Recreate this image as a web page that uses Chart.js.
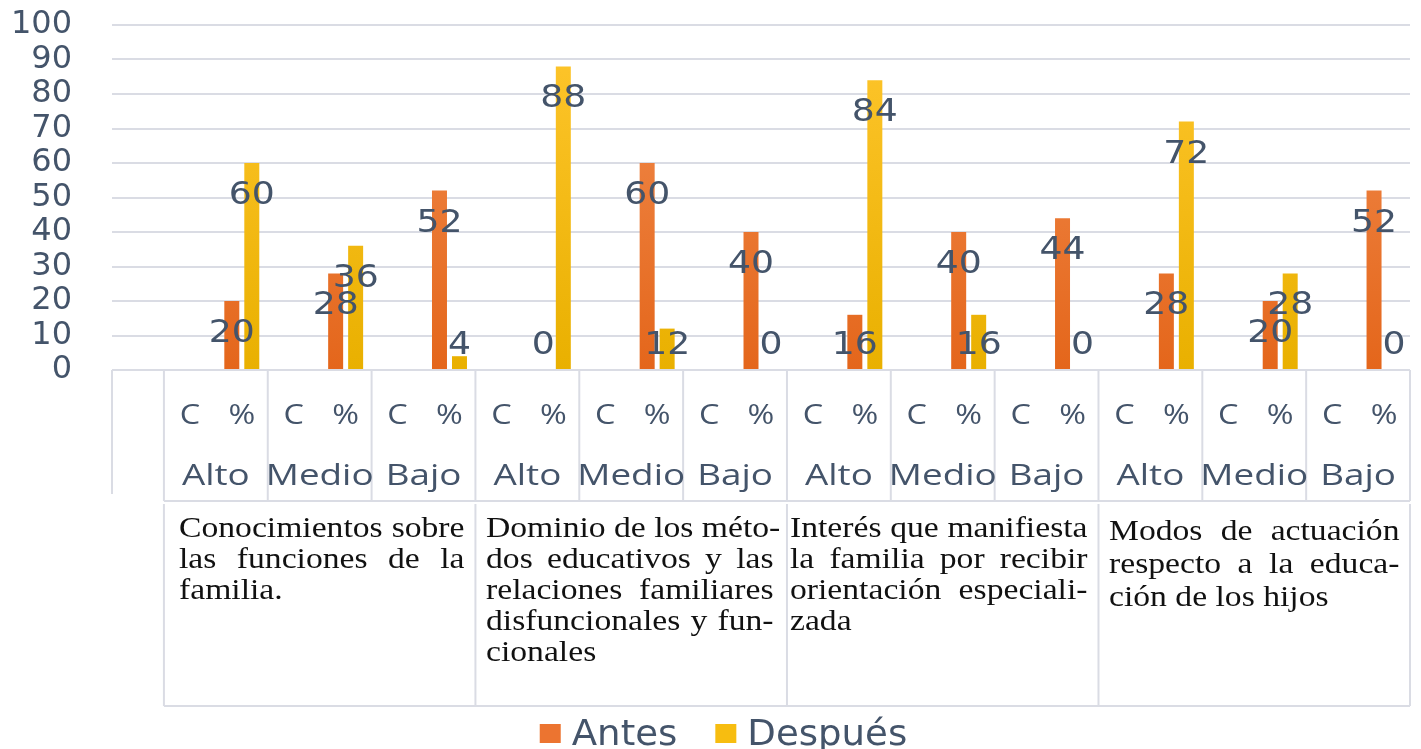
<!DOCTYPE html>
<html>
<head>
<meta charset="utf-8">
<script src="https://cdn.jsdelivr.net/npm/chart.js@4/dist/chart.umd.min.js"></script>
<style>
  body { margin: 0; background: #fff; }
  #wrap { position: relative; width: 1421px; height: 749px; }
  .cell { position: absolute; font-family: "Liberation Serif", "Times New Roman", serif; font-size: 29px; line-height: 31px; color: #111; transform-origin: 0 0; }
  .cell div { text-align: justify; text-align-last: justify; white-space: nowrap; }
  .cell div.last { text-align: left; text-align-last: left; }
</style>
</head>
<body>
<div id="wrap">
  <canvas id="myChart" width="1421" height="749"></canvas>
</div>
<script>
// data
const levels = ["Alto", "Medio", "Bajo"];
const subs = ["C", "%"];
const dimensions = [
  ["Conocimientos sobre", "las funciones de la", "familia."],
  ["Dominio de los méto-", "dos educativos y las", "relaciones familiares", "disfuncionales y fun-", "cionales"],
  ["Interés que manifiesta", "la familia por recibir", "orientación especiali-", "zada"],
  ["Modos de actuación", "respecto a la educa-", "ción de los hijos"]
];
const antes = [20, 28, 52, 0, 60, 40, 16, 40, 44, 28, 20, 52];
const despues = [60, 36, 4, 88, 12, 0, 84, 16, 0, 72, 28, 0];
const seriesNames = ["Antes", "Después"];

const textColor = "#44546a";
const gridColor = "#dadce4";

// one empty column first, then C / % for every level of every dimension
const labels = [""];
const antesData = [null];
const despuesData = [null];
antes.forEach((v, i) => {
  labels.push(subs[0], subs[1]);
  antesData.push(null, v);
  despuesData.push(null, despues[i]);
});

function grad(ctx, top, bottom) {
  const area = ctx.chart.chartArea;
  if (!area) return bottom;
  const g = ctx.chart.ctx.createLinearGradient(0, area.bottom, 0, area.top);
  g.addColorStop(0, bottom);
  g.addColorStop(1, top);
  return g;
}

function stretched(c, txt, x, y, sx) {
  c.save();
  c.translate(x, y);
  c.scale(sx, 1);
  c.fillText(txt, 0, 0);
  c.restore();
}

const extras = {
  id: "extras",
  afterDatasetsDraw(chart) {
    const c = chart.ctx;
    const xs = chart.scales.x;
    const ys = chart.scales.y;
    const base = ys.getPixelForValue(0);
    const w = xs.width / labels.length;
    const b = i => xs.left + i * w;

    // value labels
    c.save();
    c.fillStyle = textColor;
    c.font = "32px 'DejaVu Sans'";
    c.textAlign = "center";
    c.textBaseline = "alphabetic";
    chart.data.datasets.forEach((ds, di) => {
      chart.getDatasetMeta(di).data.forEach((el, i) => {
        const v = ds.data[i];
        if (v === null) return;
        const cy = Math.min(el.y + 30, base - 27);
        stretched(c, String(v), el.x, cy + 11, 1.13);
      });
    });
    c.restore();

    // category table lines
    c.save();
    c.strokeStyle = gridColor;
    c.lineWidth = 2;
    const line = (x1, y1, x2, y2) => { c.beginPath(); c.moveTo(x1, y1); c.lineTo(x2, y2); c.stroke(); };
    line(b(0), base, b(0), base + 124);
    for (let i = 1; i <= labels.length; i += 2) line(b(i), base, b(i), base + 131);
    line(b(1), base + 131, b(labels.length), base + 131);
    for (let i = 1; i <= labels.length; i += 6) line(b(i), base + 134, b(i), base + 336);
    line(b(1), base + 336, b(labels.length), base + 336);
    c.restore();

    // C / % and level labels
    c.save();
    c.fillStyle = textColor;
    c.textAlign = "center";
    c.font = "27px 'Open Sans'";
    labels.forEach((l, i) => {
      if (l) stretched(c, l, b(i) + w / 2, base + 54, 1.2);
    });
    c.font = "29px 'Open Sans'";
    for (let g = 0; g < antes.length; g++) {
      stretched(c, levels[g % 3], b(1 + g * 2) + w, base + 115, 1.27);
    }
    c.restore();

    // legend
    c.save();
    c.font = "35px 'DejaVu Sans'";
    c.textBaseline = "alphabetic";
    const box = 21, gapText = 11, gapItem = 38, sx = 1.06;
    const widths = seriesNames.map(n => c.measureText(n).width * sx);
    const total = widths.reduce((a, t) => a + box + gapText + t, 0) + gapItem;
    let lx = chart.width / 2 + 13 - total / 2;
    const colors = ["#ec7430", "#f7bd10"];
    seriesNames.forEach((n, i) => {
      c.fillStyle = colors[i];
      c.fillRect(lx, 724, box, 19);
      c.fillStyle = textColor;
      c.textAlign = "left";
      stretched(c, n, lx + box + gapText, 745, sx);
      lx += box + gapText + widths[i] + gapItem;
    });
    c.restore();
  }
};

const ctx = document.getElementById("myChart").getContext("2d");
const myChart = new Chart(ctx, {
  type: "bar",
  data: {
    labels: labels,
    datasets: [
      {
        label: seriesNames[0],
        data: antesData,
        backgroundColor: c => grad(c, "#f28e50", "#e4661b"),
        categoryPercentage: 0.77,
        barPercentage: 0.75
      },
      {
        label: seriesNames[1],
        data: despuesData,
        backgroundColor: c => grad(c, "#ffc62e", "#e9b000"),
        categoryPercentage: 0.77,
        barPercentage: 0.75
      }
    ]
  },
  options: {
    responsive: false,
    animation: false,
    layout: { padding: { top: 25, right: 11, left: 0, bottom: 0 } },
    scales: {
      y: {
        min: 0,
        max: 100,
        ticks: { stepSize: 10, autoSkip: false, padding: 0, color: textColor, font: { family: "DejaVu Sans", size: 32, lineHeight: 1 } },
        grid: { color: gridColor, lineWidth: 2, drawTicks: true, tickLength: 40, tickColor: "rgba(0,0,0,0)" },
        border: { display: false },
        afterFit: s => { s.width = 112; }
      },
      x: {
        ticks: { display: false },
        grid: { display: false },
        border: { display: false },
        afterFit: s => { s.height = 749 - 25 - 345; }
      }
    },
    plugins: {
      legend: { display: false },
      tooltip: { enabled: false }
    }
  },
  plugins: [extras]
});

// dimension text boxes under the level labels
const xs = myChart.scales.x;
const base = myChart.scales.y.getPixelForValue(0);
const cw = xs.width / labels.length;
const sx = 1.16;
const insetLeft = [15, 11, 3, 11];
const insetRight = [11, 13, 11, 10];
const lineHeights = [31, 31, 31, 33];
dimensions.forEach((lines, d) => {
  const left = xs.left + (1 + d * 6) * cw;
  const cell = document.createElement("div");
  cell.className = "cell";
  cell.style.left = (left + insetLeft[d]) + "px";
  cell.style.top = (base + 142 + (d === 3 ? 2 : 0)) + "px";
  cell.style.width = ((6 * cw - insetLeft[d] - insetRight[d]) / sx) + "px";
  cell.style.lineHeight = lineHeights[d] + "px";
  cell.style.transform = "scaleX(" + sx + ")";
  lines.forEach((t, i) => {
    const ln = document.createElement("div");
    ln.textContent = t;
    if (i === lines.length - 1) ln.className = "last";
    cell.appendChild(ln);
  });
  document.getElementById("wrap").appendChild(cell);
});
</script>
</body>
</html>
